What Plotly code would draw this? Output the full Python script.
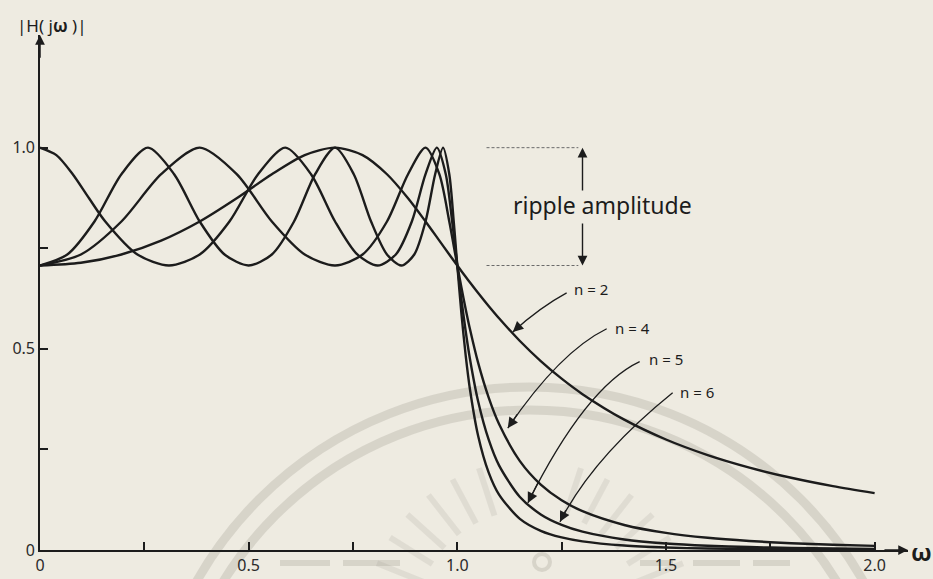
import math
import plotly.graph_objects as go

# Normalised frequency samples and magnitude |H(jω)| for each Chebyshev order
w_n2 = [0.0, 0.09802, 0.19509, 0.29028, 0.38268, 0.47140, 0.55557, 0.63439, 0.70711,
        0.77301, 0.83147, 0.88192, 0.92388, 0.95694, 0.98079, 0.99518, 1.0,
        1.01, 1.02, 1.03, 1.05, 1.075, 1.1, 1.15, 1.2, 1.25, 1.3, 1.4, 1.5, 1.6, 1.7, 1.8, 1.9, 2.0]
h_n2 = [0.7071, 0.7139, 0.7345, 0.7689, 0.8165, 0.8742, 0.9339, 0.9815, 1.0,
        0.9815, 0.9339, 0.8742, 0.8165, 0.7689, 0.7345, 0.7139, 0.7071,
        0.6930, 0.6791, 0.6654, 0.6386, 0.6064, 0.5758, 0.5195, 0.4696, 0.4258, 0.3874,
        0.3240, 0.2747, 0.2359, 0.2048, 0.1795, 0.1587, 0.1414]

w_n4 = [0.0, 0.09802, 0.19509, 0.29028, 0.38268, 0.47140, 0.55557, 0.63439, 0.70711,
        0.77301, 0.83147, 0.88192, 0.92388, 0.95694, 0.98079, 0.99518, 1.0,
        1.01, 1.02, 1.03, 1.05, 1.075, 1.1, 1.15, 1.2, 1.25, 1.3, 1.4, 1.5, 1.6, 1.7, 1.8, 1.9, 2.0]
h_n4 = [0.7071, 0.7345, 0.8165, 0.9340, 1.0, 0.9340, 0.8165, 0.7345, 0.7071,
        0.7345, 0.8165, 0.9340, 1.0, 0.9340, 0.8165, 0.7345, 0.7071,
        0.6516, 0.5992, 0.5504, 0.4650, 0.3794, 0.3131, 0.2210, 0.1626, 0.1236, 0.0964,
        0.0622, 0.0425, 0.0303, 0.0224, 0.0169, 0.0131, 0.0103]

w_n5 = [0.0, 0.03926, 0.07846, 0.11754, 0.15643, 0.23345, 0.30902, 0.38268, 0.45399, 0.52250,
        0.58779, 0.64945, 0.70711, 0.76041, 0.80902, 0.85264, 0.89101, 0.92388, 0.95106,
        0.97237, 0.98769, 0.99692, 1.0,
        1.01, 1.02, 1.03, 1.05, 1.075, 1.1, 1.15, 1.2, 1.25, 1.3, 1.4, 1.5, 1.6, 1.7, 1.8, 1.9, 2.0]
h_n5 = [1.0, 0.9815, 0.9340, 0.8742, 0.8165, 0.7345, 0.7071, 0.7345, 0.8165, 0.9340,
        1.0, 0.9340, 0.8165, 0.7345, 0.7071, 0.7345, 0.8165, 0.9340, 1.0,
        0.9340, 0.8165, 0.7345, 0.7071,
        0.6216, 0.5443, 0.4767, 0.3691, 0.2748, 0.2103, 0.1319, 0.0885, 0.0624, 0.0455,
        0.0262, 0.0163, 0.0107, 0.0073, 0.0051, 0.0037, 0.0028]

w_n6 = [0.0, 0.06540, 0.13053, 0.19509, 0.25882, 0.32144, 0.38268, 0.44229, 0.5,
        0.55557, 0.60876, 0.65935, 0.70711, 0.75184, 0.79335, 0.83147, 0.86603, 0.89687,
        0.92388, 0.94693, 0.96593, 0.98079, 0.99144, 0.99786, 1.0,
        1.01, 1.02, 1.03, 1.05, 1.075, 1.1, 1.15, 1.2, 1.25, 1.3, 1.4, 1.5, 1.6, 1.7, 1.8, 1.9, 2.0]
h_n6 = [0.7071, 0.7345, 0.8165, 0.9340, 1.0, 0.9340, 0.8165, 0.7345, 0.7071,
        0.7345, 0.8165, 0.9340, 1.0, 0.9340, 0.8165, 0.7345, 0.7071, 0.7345,
        0.8165, 0.9340, 1.0, 0.9340, 0.8165, 0.7345, 0.7071,
        0.5864, 0.4841, 0.4015, 0.2834, 0.1930, 0.1377, 0.0775, 0.0477, 0.0312, 0.0214,
        0.0110, 0.0062, 0.0037, 0.0024, 0.0016, 0.0011, 0.0007]

order_labels = ["n = 2", "n = 4", "n = 5", "n = 6"]

x_tickvals = [0, 0.25, 0.5, 0.75, 1.0, 1.25, 1.5, 1.75, 2.0]
x_ticktext = ["0", "", "0.5", "", "1.0", "", "1.5", "", "2.0"]
y_tickvals = [0, 0.25, 0.5, 0.75, 1.0]
y_ticktext = ["0", "", "0.5", "", "1.0"]

ripple_top = 1.0
ripple_bottom = 0.7071

INK = "#1c1c1c"
PAPER = "#eeebe1"
FONT = "Noto Sans"
X_MAX = 2.08
Y_MAX = 1.28

fig = go.Figure()

for w, h, name in [(w_n2, h_n2, order_labels[0]), (w_n4, h_n4, order_labels[1]),
                   (w_n5, h_n5, order_labels[2]), (w_n6, h_n6, order_labels[3])]:
    fig.add_trace(go.Scatter(
        x=w, y=h, mode="lines", name=name, showlegend=False,
        line=dict(color=INK, width=2.4, shape="spline", smoothing=0.8),
        hoverinfo="skip",
    ))

# plot-area geometry in pixels (used for the paper-referenced decorations)
L, T, PW, PH = 40, 35, 868, 515


def px_to_paper(px, py):
    return (px - L) / PW, (T + PH - py) / PH


WATERMARK = "rgba(150,145,135,0.26)"
shapes = []

# faint circular seal printed behind the graph
for radius in (383, 360):
    cx, cy = 530, 770
    x0, y0 = px_to_paper(cx - radius, cy + radius)
    x1, y1 = px_to_paper(cx + radius, cy - radius)
    shapes.append(dict(type="circle", xref="paper", yref="paper", x0=x0, y0=y0, x1=x1, y1=y1,
                       line=dict(color=WATERMARK, width=9), layer="below"))
for deg in (108, 118, 128, 138, 148, 158, 22, 32, 42, 52, 62, 72):
    a = math.radians(deg)
    xa, ya = px_to_paper(530 + 115 * math.cos(a), 625 - 115 * math.sin(a))
    xb, yb = px_to_paper(530 + 165 * math.cos(a), 625 - 165 * math.sin(a))
    shapes.append(dict(type="line", xref="paper", yref="paper", x0=xa, y0=ya, x1=xb, y1=yb,
                       line=dict(color="rgba(150,145,135,0.16)", width=6), layer="below"))
for bx0, bx1 in ((280, 330), (343, 400), (640, 673), (693, 740), (753, 790)):
    xa, ya = px_to_paper(bx0, 563)
    xb, _ = px_to_paper(bx1, 563)
    shapes.append(dict(type="line", xref="paper", yref="paper", x0=xa, y0=ya, x1=xb, y1=ya,
                       line=dict(color=WATERMARK, width=6), layer="below"))
xa, ya = px_to_paper(534, 570)
xb, yb = px_to_paper(550, 554)
shapes.append(dict(type="circle", xref="paper", yref="paper", x0=xa, y0=ya, x1=xb, y1=yb,
                   line=dict(color=WATERMARK, width=4), layer="below"))

# dashed guide lines marking the ripple band
for level in (ripple_top, ripple_bottom):
    shapes.append(dict(type="line", xref="x", yref="y", x0=1.07, x1=1.29, y0=level, y1=level,
                       line=dict(color="#6a6a6a", width=1, dash="3px,2px")))

# curved leader lines from the order labels to the curves
leaders = [
    ((1.262, 0.639), (1.198, 0.603), (1.133, 0.542)),
    ((1.358, 0.550), (1.2455, 0.4928), (1.121, 0.303)),
    ((1.437, 0.468), (1.308, 0.405), (1.169, 0.117)),
    ((1.516, 0.391), (1.325, 0.231), (1.246, 0.070)),
]
for (sx, sy), (qx, qy), (ex, ey) in leaders:
    shapes.append(dict(type="path", xref="x", yref="y",
                       path=f"M {sx},{sy} Q {qx},{qy} {ex},{ey}",
                       line=dict(color=INK, width=1.3)))

annotations = []
for (sx, sy), (qx, qy), (ex, ey) in leaders:
    annotations.append(dict(x=ex, y=ey, ax=ex + 0.2 * (qx - ex), ay=ey + 0.2 * (qy - ey),
                            xref="x", yref="y", axref="x", ayref="y", text="",
                            showarrow=True, arrowhead=2, arrowsize=1.6, arrowwidth=1.3,
                            arrowcolor=INK))

label_pos = [(1.274, 0.649), (1.372, 0.552), (1.454, 0.475), (1.528, 0.393)]
for (lx, ly), text in zip(label_pos, order_labels):
    annotations.append(dict(x=lx, y=ly, xref="x", yref="y", text=text, showarrow=False,
                            xanchor="left", yanchor="middle",
                            font=dict(family=FONT, size=15, color=INK)))

# ripple amplitude marker
annotations.append(dict(x=1.30, y=ripple_top, ax=1.30, ay=0.89, xref="x", yref="y",
                        axref="x", ayref="y", text="", showarrow=True, arrowhead=2,
                        arrowsize=1.4, arrowwidth=1.4, arrowcolor=INK))
annotations.append(dict(x=1.30, y=ripple_bottom, ax=1.30, ay=0.815, xref="x", yref="y",
                        axref="x", ayref="y", text="", showarrow=True, arrowhead=2,
                        arrowsize=1.4, arrowwidth=1.4, arrowcolor=INK))
annotations.append(dict(x=1.349, y=0.858, xref="x", yref="y", text="ripple amplitude",
                        showarrow=False, font=dict(family=FONT, size=23, color=INK)))

# axis arrowheads and axis titles
annotations.append(dict(x=X_MAX, y=0, ax=X_MAX - 0.06, ay=0, xref="x", yref="y",
                        axref="x", ayref="y", text="", showarrow=True, arrowhead=2,
                        arrowsize=1.3, arrowwidth=1.5, arrowcolor=INK))
annotations.append(dict(x=0, y=Y_MAX, ax=0, ay=Y_MAX - 0.06, xref="x", yref="y",
                        axref="x", ayref="y", text="", showarrow=True, arrowhead=2,
                        arrowsize=1.3, arrowwidth=1.5, arrowcolor=INK))
wx, wy = px_to_paper(921, 551)
annotations.append(dict(x=wx, y=wy, xref="paper", yref="paper", text="<b>ω</b>",
                        xanchor="center", yanchor="middle", showarrow=False,
                        font=dict(family=FONT, size=24, color=INK)))
hx, hy = px_to_paper(52, 25)
annotations.append(dict(x=hx, y=hy, xref="paper", yref="paper", text="|H( j<b>ω</b> )|",
                        xanchor="center", yanchor="middle", showarrow=False,
                        font=dict(family=FONT, size=17, color=INK)))

axis_common = dict(showline=True, linecolor=INK, linewidth=1.6, ticks="inside", ticklen=8,
                   tickwidth=1.5, tickcolor=INK, showgrid=False, zeroline=False,
                   automargin=False, fixedrange=True,
                   tickfont=dict(family=FONT, size=16, color="#2a2a2a"))

fig.update_layout(
    width=933, height=579,
    margin=dict(l=L, r=933 - L - PW, t=T, b=579 - T - PH),
    paper_bgcolor=PAPER, plot_bgcolor="rgba(0,0,0,0)",
    xaxis=dict(range=[0, X_MAX], tickvals=x_tickvals, ticktext=x_ticktext, **axis_common),
    yaxis=dict(range=[0, Y_MAX], tickvals=y_tickvals, ticktext=y_ticktext, **axis_common),
    shapes=shapes, annotations=annotations, showlegend=False,
)

fig.write_html("out.html")
